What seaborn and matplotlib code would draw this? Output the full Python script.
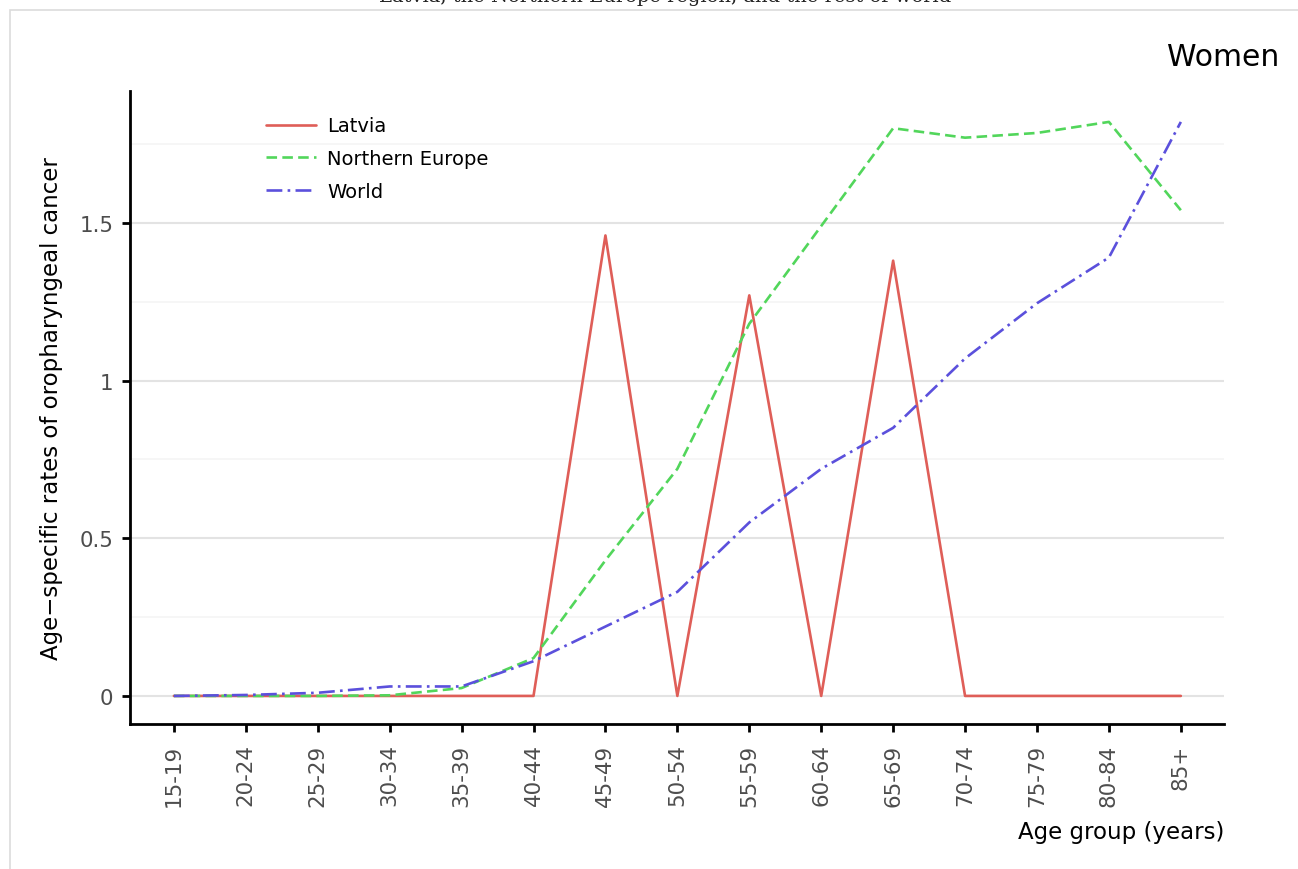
import numpy as np
import pandas as pd
import matplotlib
matplotlib.use("Agg")
import matplotlib.pyplot as plt
import seaborn as sns
from matplotlib.patches import Rectangle

# ── Data ────────────────────────────────────────────────────
age_groups = ["15-19", "20-24", "25-29", "30-34", "35-39", "40-44", "45-49",
              "50-54", "55-59", "60-64", "65-69", "70-74", "75-79", "80-84", "85+"]
latvia = [0, 0, 0, 0, 0, 0, 1.46, 0, 1.27, 0, 1.38, 0, 0, 0, 0]
northern_europe = [0, 0, 0, 0.002, 0.025, 0.12, 0.43, 0.72, 1.18, 1.49,
                   1.80, 1.77, 1.785, 1.82, 1.54]
world = [0, 0.003, 0.01, 0.03, 0.03, 0.11, 0.22, 0.33, 0.55, 0.72,
         0.85, 1.07, 1.245, 1.39, 1.82]
series_names = ["Latvia", "Northern Europe", "World"]
colors = ["#DF5E58", "#52D65B", "#5B50DC"]
y_ticks = [0, 0.5, 1, 1.5]
y_tick_labels = ["0", "0.5", "1", "1.5"]

df = pd.DataFrame({
    "age": age_groups * 3,
    "x": list(range(len(age_groups))) * 3,
    "rate": latvia + northern_europe + world,
    "region": np.repeat(series_names, len(age_groups)),
})

# ── Plot ────────────────────────────────────────────────────
sns.set_style("white")
plt.rcParams["font.family"] = ["DejaVu Sans"]
plt.rcParams["text.color"] = "black"
plt.rcParams["axes.labelcolor"] = "black"

fig = plt.figure(figsize=(12.98, 8.70), dpi=100)
ax = fig.add_axes([130 / 1298, 1 - 725 / 870, (1224 - 130) / 1298, (725 - 92) / 870])

# frame around the panel
fig.patches.append(Rectangle((10 / 1298, -0.01), 1.0, 1 - 11 / 870 + 0.01,
                             transform=fig.transFigure, fill=False,
                             edgecolor="#dcdcdc", linewidth=1.2, zorder=0))

dashes = {"Latvia": "", "Northern Europe": (4, 2), "World": (6, 2, 1, 2)}
sns.lineplot(data=df, x="x", y="rate", hue="region", style="region",
             palette=colors, dashes=dashes, linewidth=1.9, ax=ax, zorder=3)

ax.set_xlim(-0.61, 14.6)
ax.set_ylim(-0.089, 1.918)
ax.set_xticks(range(len(age_groups)))
ax.set_xticklabels(age_groups, rotation=90, fontsize=15.4, color="#4d4d4d")
ax.set_yticks(y_ticks)
ax.set_yticklabels(y_tick_labels, fontsize=15.4, color="#4d4d4d")
ax.set_yticks([0.25, 0.75, 1.25, 1.75], minor=True)
ax.grid(axis="y", which="major", color="#e3e3e3", linewidth=1.5)
ax.grid(axis="y", which="minor", color="#f5f5f5", linewidth=1.2)
ax.grid(axis="x", visible=False)
ax.tick_params(axis="both", which="major", length=6, width=2, color="black",
               bottom=True, left=True)
ax.tick_params(axis="x", which="major", pad=8)
ax.tick_params(axis="y", which="major", pad=6)
ax.tick_params(axis="y", which="minor", length=0)

for side in ["top", "right"]:
    ax.spines[side].set_visible(False)
for side in ["left", "bottom"]:
    ax.spines[side].set_linewidth(2)
    ax.spines[side].set_color("black")

ax.set_xlabel("Age group (years)", fontsize=16.5, loc="right", labelpad=10)
ax.set_ylabel("Age\u2212specific rates of oropharyngeal cancer", fontsize=16.5, labelpad=12)

leg = ax.legend(loc="upper left", bbox_to_anchor=(0.124, 0.960), frameon=False,
                fontsize=14, handlelength=2.6, handletextpad=0.55,
                labelspacing=0.7, borderaxespad=0, borderpad=0, title=None)
for line in leg.get_lines():
    line.set_linewidth(1.9)
for txt in leg.get_texts():
    txt.set_color("black")

fig.text(1279 / 1298, 1 - 66 / 870, "Women", fontsize=21.5, ha="right", va="baseline")
fig.text(665 / 1298, 1 - 2 / 870, "Latvia, the Northern Europe region, and the rest of world",
         fontsize=14, family="DejaVu Serif", ha="center", va="baseline", color="#222222")

fig.savefig("out.png", dpi=100)
